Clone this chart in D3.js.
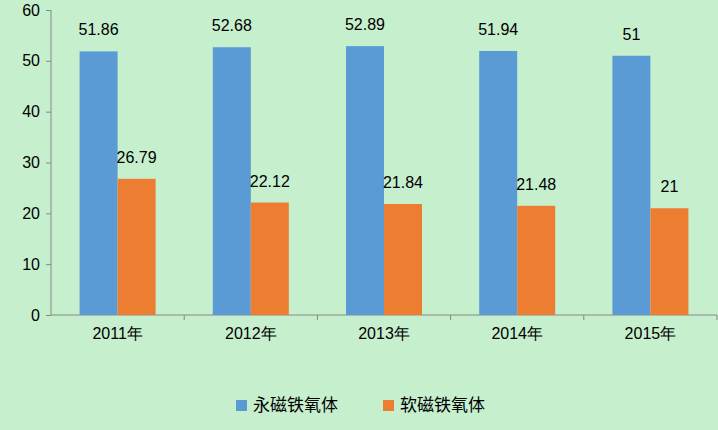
<!DOCTYPE html>
<html><head><meta charset="utf-8">
<script src="https://cdn.jsdelivr.net/npm/d3@7"></script>
<style>body{margin:0;background:#c6efce;}svg{display:block;}</style>
</head><body><div id="chart"></div>
<script>
const years = ["2011年", "2012年", "2013年", "2014年", "2015年"];
const hard = [51.86, 52.68, 52.89, 51.94, 51];
const soft = [26.79, 22.12, 21.84, 21.48, 21];
const seriesNames = ["永磁铁氧体", "软磁铁氧体"];
const colors = ["#5b9bd5", "#ed7d31"];
const yTicks = [0, 10, 20, 30, 40, 50, 60];

const W = 718, H = 430;
const svg = d3.select("#chart").append("svg").attr("width", W).attr("height", H);
svg.append("rect").attr("width", W).attr("height", H).attr("fill", "#c6efce");

const x = d3.scaleBand().domain(years).range([51, 717]);
const y = d3.scaleLinear().domain([0, 60]).range([315, 10]);
const font = "'Liberation Sans', Arial, sans-serif";

// y axis
const ya = svg.append("g").attr("transform", "translate(51,0)")
  .call(d3.axisLeft(y).tickValues(yTicks).tickSize(5).tickPadding(6));
ya.selectAll("text").style("font-size", "16px").style("font-family", font).attr("fill", "#000");
ya.selectAll("line,path").attr("stroke", "#888");
ya.select("path").attr("d", "M0,10V315");

// x axis
const xa = svg.append("g").attr("transform", "translate(0,315)")
  .call(d3.axisBottom(x).tickSize(0).tickPadding(13));
xa.selectAll("text").style("font-size", "16px").style("font-family", font).attr("fill", "#000");
xa.select("path").attr("stroke", "#888").attr("d", "M51,0H717");
years.forEach(d => xa.append("line").attr("x1", x(d) + x.bandwidth()).attr("x2", x(d) + x.bandwidth())
  .attr("y1", 0).attr("y2", 5).attr("stroke", "#888"));

const bw = 38;
[hard, soft].forEach((vals, s) => {
  const g = svg.append("g");
  years.forEach((d, i) => {
    const bx = x(d) + x.bandwidth() / 2 - bw + s * bw;
    g.append("rect").attr("x", bx).attr("y", y(vals[i])).attr("width", bw)
      .attr("height", y(0) - y(vals[i])).attr("fill", colors[s]);
    g.append("text").attr("x", bx + bw / 2).attr("y", y(vals[i]) - 16)
      .attr("text-anchor", "middle").style("font-size", "16px").style("font-family", font)
      .text(vals[i]);
  });
});

// legend
const lg = svg.append("g").attr("transform", "translate(236,400)");
seriesNames.forEach((n, i) => {
  const o = i * 147;
  lg.append("rect").attr("x", o).attr("y", 0).attr("width", 11).attr("height", 11).attr("fill", colors[i]);
  lg.append("text").attr("x", o + 17).attr("y", 11).style("font-size", "17px")
    .style("font-family", "'Noto Sans CJK SC', sans-serif").text(n);
});
</script></body></html>
